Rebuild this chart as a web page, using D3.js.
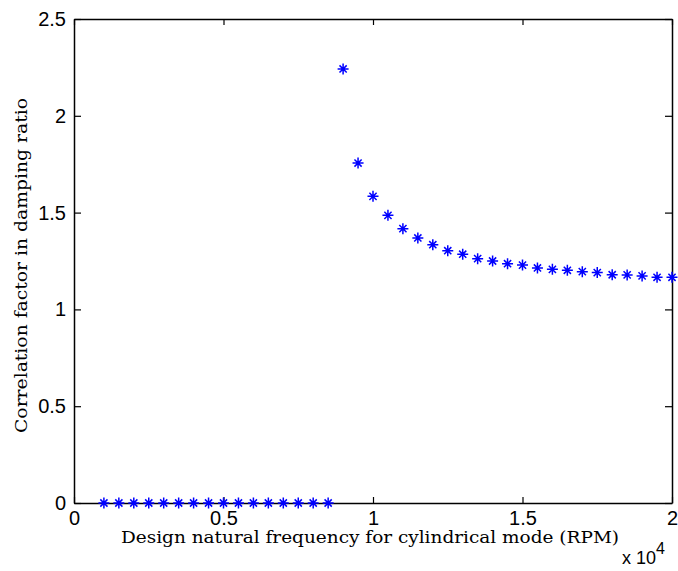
<!DOCTYPE html>
<html>
<head>
<meta charset="utf-8">
<script src="https://cdn.jsdelivr.net/npm/d3@7"></script>
<style>
	body { margin: 0; background: #fff; }
	svg { display: block; }
	.tick text { font-family: 'Liberation Sans', Arial, sans-serif; font-size: 20px; fill: #000; }
	.lbl { font-family: 'DejaVu Serif', 'Liberation Serif', serif; font-size: 16px; fill: #000; }
</style>
</head>
<body>
<div id="chart"></div>
<script>
'use strict';

// design natural frequency (RPM)
let freqs = [1000, 1500, 2000, 2500, 3000, 3500, 4000, 4500, 5000, 5500,
	6000, 6500, 7000, 7500, 8000, 8500, 9000, 9500, 10000, 10500,
	11000, 11500, 12000, 12500, 13000, 13500, 14000, 14500, 15000, 15500,
	16000, 16500, 17000, 17500, 18000, 18500, 19000, 19500, 20000];
// correlation factor in damping ratio
let factors = [0, 0, 0, 0, 0, 0, 0, 0, 0, 0,
	0, 0, 0, 0, 0, 0, 2.242, 1.756, 1.584, 1.486,
	1.417, 1.369, 1.334, 1.303, 1.285, 1.262, 1.250, 1.236, 1.229, 1.214,
	1.207, 1.202, 1.195, 1.190, 1.179, 1.178, 1.173, 1.166, 1.166];
let xTicks = [0, 5000, 10000, 15000, 20000];
let xTickLabels = ['0', '0.5', '1', '1.5', '2'];
let yTicks = [0, 0.5, 1, 1.5, 2, 2.5];
let yTickLabels = ['0', '0.5', '1', '1.5', '2', '2.5'];

let W = 678, H = 571;
let m = {left: 74, right: 6, top: 19, bottom: 68};

let svg = d3.select('#chart')
	.append('svg')
		.attr('width', W)
		.attr('height', H)
	;

let x = d3.scaleLinear().domain([0, 20000]).range([m.left, W - m.right]);
let y = d3.scaleLinear().domain([0, 2.5]).range([H - m.bottom, m.top]);

// ticks on all four sides, pointing inward
let ax = svg.append('g');
ax.append('g')
	.attr('transform', 'translate(0,' + y(0) + ')')
	.call(d3.axisBottom(x).tickValues(xTicks).tickSizeInner(-6).tickSizeOuter(0).tickPadding(8)
		.tickFormat((d, i) => xTickLabels[i]));
ax.append('g')
	.attr('transform', 'translate(0,' + y(2.5) + ')')
	.call(d3.axisTop(x).tickValues(xTicks).tickSizeInner(-6).tickSizeOuter(0).tickFormat(''));
ax.append('g')
	.attr('transform', 'translate(' + x(0) + ',0)')
	.call(d3.axisLeft(y).tickValues(yTicks).tickSizeInner(-7).tickSizeOuter(0).tickPadding(8)
		.tickFormat((d, i) => yTickLabels[i]));
ax.append('g')
	.attr('transform', 'translate(' + x(20000) + ',0)')
	.call(d3.axisRight(y).tickValues(yTicks).tickSizeInner(-7).tickSizeOuter(0).tickFormat(''));
ax.selectAll('.domain').attr('stroke', '#000').attr('stroke-width', 1.5);
ax.selectAll('.tick line').attr('stroke', '#000').attr('stroke-width', 1.2);
ax.selectAll('.tick text').attr('fill', '#000');

// asterisk markers
let star = 'M-5.5,0L5.5,0M0,-5.5L0,5.5M-3.6,-3.6L3.6,3.6M-3.6,3.6L3.6,-3.6';
svg.append('g')
	.selectAll('path')
	.data(freqs)
	.join('path')
		.attr('transform', (d, i) => 'translate(' + x(d) + ',' + y(factors[i]) + ')')
		.attr('d', star)
		.attr('stroke', '#0000ff')
		.attr('stroke-width', 1.5)
		.attr('fill', 'none')
	;

// axis labels
svg.append('text')
	.classed('lbl', true)
	.attr('x', 121)
	.attr('y', 543)
	.attr('textLength', 498)
	.attr('lengthAdjust', 'spacingAndGlyphs')
	.text('Design natural frequency for cylindrical mode (RPM)');

svg.append('text')
	.classed('lbl', true)
	.attr('transform', 'translate(27,433) rotate(-90)')
	.attr('textLength', 335)
	.attr('lengthAdjust', 'spacingAndGlyphs')
	.text('Correlation factor in damping ratio');

// exponent
let ex = svg.append('text')
	.attr('x', 622)
	.attr('y', 564)
	.style('font-family', "'Liberation Sans', Arial, sans-serif")
	.style('font-size', '18px');
ex.append('tspan').text('x 10');
ex.append('tspan').attr('dy', -10).style('font-size', '16px').text('4');
</script>
</body>
</html>
